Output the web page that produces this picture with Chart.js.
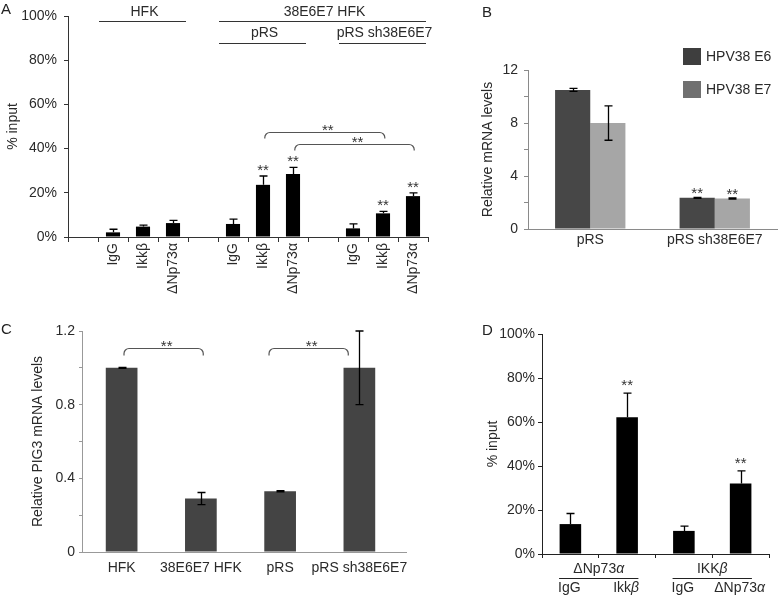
<!DOCTYPE html>
<html lang="en">
<head>
<meta charset="UTF-8" />
<title>ChIP and mRNA levels, panels A-D</title>
<script src="https://cdn.jsdelivr.net/npm/chart.js"></script>
<style>
  html, body { margin: 0; padding: 0; background: #fff; }
  #fig { position: relative; width: 778px; height: 597px; overflow: hidden; }
  #fig canvas { position: absolute; }
</style>
</head>
<body>
<div id="fig">
  <canvas id="chartA" width="450" height="300" style="left:0;top:0;width:450px;height:300px"></canvas>
  <canvas id="chartB" width="328" height="300" style="left:450px;top:0;width:328px;height:300px"></canvas>
  <canvas id="chartC" width="450" height="297" style="left:0;top:300px;width:450px;height:297px"></canvas>
  <canvas id="chartD" width="328" height="297" style="left:450px;top:300px;width:328px;height:297px"></canvas>
</div>

<script>
// ---- panel A: % input per antibody ----
const aLabels = ['', 'IgG', 'Ikkβ', 'ΔNp73α', '', 'IgG', 'Ikkβ', 'ΔNp73α', '', 'IgG', 'Ikkβ', 'ΔNp73α'];
const aValues = [null, 2.1, 4.7, 6.3, null, 5.9, 23.6, 28.5, null, 3.9, 10.7, 18.5];
const aErrors = [null, 1.4, 0.7, 1.2, null, 2.2, 4.0, 3.0, null, 2.0, 0.9, 1.5];
const aStars  = ['', '', '', '', '', '', '**', '**', '', '', '**', '**'];
// [text, first category, last category, row]
const aGroups = [['HFK', 1, 3, 0], ['38E6E7 HFK', 5, 11, 0], ['pRS', 5, 7, 1], ['pRS sh38E6E7', 9, 11, 1]];
// [from category, to category, level]
const aBrackets = [[6.06, 10.06, 47.5], [7.06, 11.04, 42]];

// ---- panel B: HPV38 E6/E7 mRNA ----
const bLabels = ['pRS', 'pRS sh38E6E7'];
const bSeries = ['HPV38 E6', 'HPV38 E7'];
const bE6 = [10.5, 2.35];
const bE7 = [8.0, 2.3];
const bE6Err = [0.12, 0.04];
const bE7Err = [1.3, 0.05];
const bStars = ['', '**'];

// ---- panel C: PIG3 mRNA ----
const cLabels = ['HFK', '38E6E7 HFK', 'pRS', 'pRS sh38E6E7'];
const cValues = [1.0, 0.29, 0.33, 1.0];
const cErrors = [0.003, 0.033, 0.003, 0.2];
const cBrackets = [[0.03, 1.03, 1.11], [1.86, 2.86, 1.11]];

// ---- panel D: % input ----
const dLabels = ['IgG', 'Ikkβ', 'IgG', 'ΔNp73α'];
const dValues = [13.6, 62.2, 10.5, 32.0];
const dErrors = [4.8, 10.9, 2.2, 5.8];
const dStars  = ['', '**', '', '**'];
const dGroups = [['ΔNp73α', 0, 1], ['IKKβ', 2, 3]];

const FONT = "'Liberation Sans', Arial, Helvetica, sans-serif";
Chart.defaults.font.family = FONT;
Chart.defaults.font.size = 14;
Chart.defaults.color = '#2a2a2a';
Chart.defaults.animation = false;
Chart.defaults.plugins.legend.display = false;
Chart.defaults.plugins.tooltip.enabled = false;

function errorBars(sets, upOnly) {
  return {
    id: 'errorBars',
    afterDatasetsDraw(chart) {
      const ctx = chart.ctx, ys = chart.scales.y;
      ctx.save();
      ctx.strokeStyle = '#000';
      ctx.lineWidth = 1.3;
      sets.forEach((errs, di) => {
        const vals = chart.data.datasets[di].data;
        chart.getDatasetMeta(di).data.forEach((bar, i) => {
          if (errs[i] == null || vals[i] == null) return;
          const x = Math.round(bar.x) + 0.5;
          const top = ys.getPixelForValue(vals[i] + errs[i]);
          const bot = upOnly ? bar.y : ys.getPixelForValue(vals[i] - errs[i]);
          ctx.beginPath();
          ctx.moveTo(x, bot); ctx.lineTo(x, top);
          ctx.moveTo(x - 4, top); ctx.lineTo(x + 4, top);
          if (!upOnly) { ctx.moveTo(x - 4, bot); ctx.lineTo(x + 4, bot); }
          ctx.stroke();
        });
      });
      ctx.restore();
    }
  };
}

function stars(sets, errSets, gap) {
  return {
    id: 'stars',
    afterDatasetsDraw(chart) {
      const ctx = chart.ctx, ys = chart.scales.y;
      ctx.save();
      ctx.font = '15px ' + FONT;
      ctx.fillStyle = '#333';
      ctx.textAlign = 'center';
      ctx.textBaseline = 'alphabetic';
      sets.forEach((marks, di) => {
        const vals = chart.data.datasets[di].data;
        chart.getDatasetMeta(di).data.forEach((bar, i) => {
          if (!marks[i]) return;
          const top = ys.getPixelForValue(vals[i] + (errSets[di][i] || 0));
          ctx.fillText(marks[i], bar.x, top - gap);
        });
      });
      ctx.restore();
    }
  };
}

function bracket(ctx, x1, x2, y, drop, r) {
  ctx.beginPath();
  ctx.moveTo(x1, y + drop);
  ctx.arcTo(x1, y, x1 + r, y, r);
  ctx.lineTo(x2 - r, y);
  ctx.arcTo(x2, y, x2, y + drop, r);
  ctx.lineTo(x2, y + drop);
  ctx.stroke();
}

function brackets(list, drop) {
  return {
    id: 'brackets',
    afterDatasetsDraw(chart) {
      const ctx = chart.ctx, xs = chart.scales.x, ys = chart.scales.y;
      ctx.save();
      ctx.strokeStyle = '#555';
      ctx.lineWidth = 1.2;
      ctx.fillStyle = '#333';
      ctx.font = '15px ' + FONT;
      ctx.textAlign = 'center';
      list.forEach(([a, b, level]) => {
        const x1 = xs.getPixelForValue(a), x2 = xs.getPixelForValue(b);
        const y = Math.round(ys.getPixelForValue(level)) + 0.5;
        bracket(ctx, x1, x2, y, drop, 5);
        ctx.fillText('**', (x1 + x2) / 2 + 3, y + 2);
      });
      ctx.restore();
    }
  };
}

function letter(ch, x, y) {
  return {
    id: 'letter',
    afterDraw(chart) {
      const ctx = chart.ctx;
      ctx.save();
      ctx.font = '15px ' + FONT;
      ctx.fillStyle = '#222';
      ctx.textBaseline = 'alphabetic';
      ctx.fillText(ch, x, y);
      ctx.restore();
    }
  };
}

// text with greek lower-case letters set in italic
function mixedText(ctx, str, cx, y) {
  const parts = str.split(/([α-ω])/).filter(s => s);
  const fontOf = s => (/^[α-ω]$/.test(s) ? 'italic ' : '') + '14px ' + FONT;
  let w = 0;
  parts.forEach(s => { ctx.font = fontOf(s); w += ctx.measureText(s).width; });
  let x = cx - w / 2;
  ctx.textAlign = 'left';
  parts.forEach(s => { ctx.font = fontOf(s); ctx.fillText(s, x, y); x += ctx.measureText(s).width; });
}

function axisY(opts) {
  return {
    min: 0, max: opts.max,
    border: { display: true, color: opts.color, width: 1 },
    grid: { drawOnChartArea: false, drawTicks: true, tickLength: opts.tl, color: opts.color, tickColor: opts.color },
    ticks: { stepSize: opts.step, padding: opts.pad, color: '#2a2a2a', font: { size: 14 }, callback: opts.fmt },
    title: { display: true, text: opts.title, color: '#2a2a2a', font: { size: 14 }, padding: { top: opts.titleOff - 8.4, bottom: 0 } },
    afterFit: s => { s.width = opts.width; }
  };
}

// ---------- A ----------
new Chart(document.getElementById('chartA'), {
  type: 'bar',
  data: {
    labels: aLabels,
    datasets: [{ data: aValues, backgroundColor: '#000', barPercentage: 0.47, categoryPercentage: 1 }]
  },
  options: {
    responsive: false,
    layout: { padding: { left: 0, top: 16, right: 22, bottom: 0 } },
    scales: {
      x: {
        border: { display: true, color: '#333' },
        grid: { offset: true, drawOnChartArea: false, tickLength: 5, color: '#333', tickColor: '#333' },
        ticks: { minRotation: 90, maxRotation: 90, autoSkip: false, padding: 1, color: '#2a2a2a', font: { size: 14 } },
        afterFit: s => { s.height = 63; }
      },
      y: axisY({ max: 100, step: 20, tl: 4, pad: 7, color: '#333', width: 68, title: '% input', titleOff: 13, fmt: v => v + '%' })
    }
  },
  plugins: [
    errorBars([aErrors], true),
    stars([aStars], [aErrors], 1),
    brackets(aBrackets, 6),
    letter('A', 1, 14),
    {
      id: 'groupsA',
      afterDraw(chart) {
        const ctx = chart.ctx, xs = chart.scales.x;
        const slot = (xs.right - xs.left) / aLabels.length;
        ctx.save();
        ctx.strokeStyle = '#333';
        ctx.lineWidth = 1;
        ctx.fillStyle = '#2a2a2a';
        ctx.font = '14px ' + FONT;
        ctx.textAlign = 'center';
        ctx.textBaseline = 'middle';
        aGroups.forEach(([text, a, b, row]) => {
          const x1 = xs.getPixelForValue(a) - slot / 2 + 1;
          const x2 = xs.getPixelForValue(b) + slot / 2 - 2;
          const yl = row === 0 ? 21.5 : 43.5;
          const yt = row === 0 ? 12 : 33;
          ctx.beginPath(); ctx.moveTo(x1, yl); ctx.lineTo(x2, yl); ctx.stroke();
          ctx.fillText(text, (x1 + x2) / 2 + 2, yt);
        });
        ctx.restore();
      }
    }
  ]
});

// ---------- B ----------
const bColors = ['#474747', '#a6a6a6'];
const bLegendColors = ['#3e3e3e', '#707070'];
new Chart(document.getElementById('chartB'), {
  type: 'bar',
  data: {
    labels: bLabels,
    datasets: [
      { label: bSeries[0], data: bE6, backgroundColor: bColors[0], barPercentage: 1, categoryPercentage: 0.565 },
      { label: bSeries[1], data: bE7, backgroundColor: bColors[1], barPercentage: 1, categoryPercentage: 0.565 }
    ]
  },
  options: {
    responsive: false,
    layout: { padding: { left: 0, top: 70, right: 1, bottom: 0 } },
    scales: {
      x: {
        border: { display: true, color: '#8a8a8a' },
        grid: { drawOnChartArea: false, drawTicks: false },
        ticks: { padding: 3, minRotation: 0, maxRotation: 0, color: '#2a2a2a', font: { size: 14 } },
        afterFit: s => { s.height = 71; }
      },
      y: axisY({ max: 12, step: 2, tl: 4, pad: 6, color: '#8a8a8a', width: 78, title: 'Relative mRNA levels', titleOff: 38,
                 fmt: v => (v % 4 === 0 ? v : '') })
    }
  },
  plugins: [
    errorBars([bE6Err, bE7Err], false),
    stars([bStars, bStars], [bE6Err, bE7Err], -1),
    letter('B', 32, 17),
    {
      id: 'legendB',
      afterDraw(chart) {
        const ctx = chart.ctx;
        ctx.save();
        ctx.font = '14px ' + FONT;
        ctx.textBaseline = 'middle';
        chart.data.datasets.forEach((ds, i) => {
          const y = 48 + i * 33;
          ctx.fillStyle = bLegendColors[i];
          ctx.fillRect(233, y, 18, 17);
          ctx.fillStyle = '#2a2a2a';
          ctx.fillText(ds.label, 256, y + 9);
        });
        ctx.restore();
      }
    }
  ]
});

// ---------- C ----------
new Chart(document.getElementById('chartC'), {
  type: 'bar',
  data: {
    labels: cLabels,
    datasets: [{ data: cValues, backgroundColor: '#444', barPercentage: 0.4, categoryPercentage: 1 }]
  },
  options: {
    responsive: false,
    layout: { padding: { left: 0, top: 31, right: 51, bottom: 0 } },
    scales: {
      x: {
        border: { display: true, color: '#999' },
        grid: { drawOnChartArea: false, drawTicks: false },
        ticks: { padding: 8, minRotation: 0, maxRotation: 0, autoSkip: false, color: '#2a2a2a', font: { size: 14 } },
        afterFit: s => { s.height = 45; }
      },
      y: axisY({ max: 1.2, step: 0.2, tl: 3, pad: 4, color: '#999', width: 82, title: 'Relative PIG3 mRNA levels', titleOff: 38,
                 fmt: v => (Math.round(v * 5) % 2 === 0 ? (v === 0 ? '0' : v.toFixed(1)) : '') })
    }
  },
  plugins: [
    errorBars([cErrors], false),
    brackets(cBrackets, 7),
    letter('C', 1, 34),
    {
      id: 'axisTailC',
      afterDraw(chart) {
        const ctx = chart.ctx, a = chart.chartArea;
        ctx.save();
        ctx.strokeStyle = '#999';
        ctx.beginPath(); ctx.moveTo(a.right, a.bottom + 0.5); ctx.lineTo(a.right + 8, a.bottom + 0.5); ctx.stroke();
        ctx.restore();
      }
    }
  ]
});

// ---------- D ----------
new Chart(document.getElementById('chartD'), {
  type: 'bar',
  data: {
    labels: dLabels,
    datasets: [{ data: dValues, backgroundColor: '#000', barPercentage: 0.38, categoryPercentage: 1 }]
  },
  options: {
    responsive: false,
    layout: { padding: { left: 0, top: 34, right: 9, bottom: 0 } },
    scales: {
      x: {
        border: { display: true, color: '#222' },
        grid: { offset: true, drawOnChartArea: false, tickLength: 4, color: '#222', tickColor: '#222' },
        ticks: { display: false },
        afterFit: s => { s.height = 43; }
      },
      y: axisY({ max: 100, step: 20, tl: 4, pad: 3, color: '#222', width: 92, title: '% input', titleOff: 43, fmt: v => v + '%' })
    }
  },
  plugins: [
    errorBars([dErrors], true),
    stars([dStars], [dErrors], 3),
    letter('D', 32, 35),
    {
      id: 'labelsD',
      afterDraw(chart) {
        const ctx = chart.ctx, xs = chart.scales.x;
        const bar = chart.getDatasetMeta(0).data[0];
        const half = bar.width / 2;
        ctx.save();
        ctx.fillStyle = '#2a2a2a';
        ctx.strokeStyle = '#222';
        ctx.lineWidth = 1;
        ctx.textBaseline = 'middle';
        dGroups.forEach(([text, a, b]) => {
          const x1 = xs.getPixelForValue(a) - half - 0.5;
          const x2 = xs.getPixelForValue(b) + half + 0.5;
          mixedText(ctx, text, (x1 + x2) / 2, 269);
          ctx.beginPath(); ctx.moveTo(x1, 278.5); ctx.lineTo(x2, 278.5); ctx.stroke();
        });
        chart.data.labels.forEach((lab, i) => mixedText(ctx, lab, xs.getPixelForValue(i) - 1, 288));
        ctx.restore();
      }
    }
  ]
});
</script>
</body>
</html>
